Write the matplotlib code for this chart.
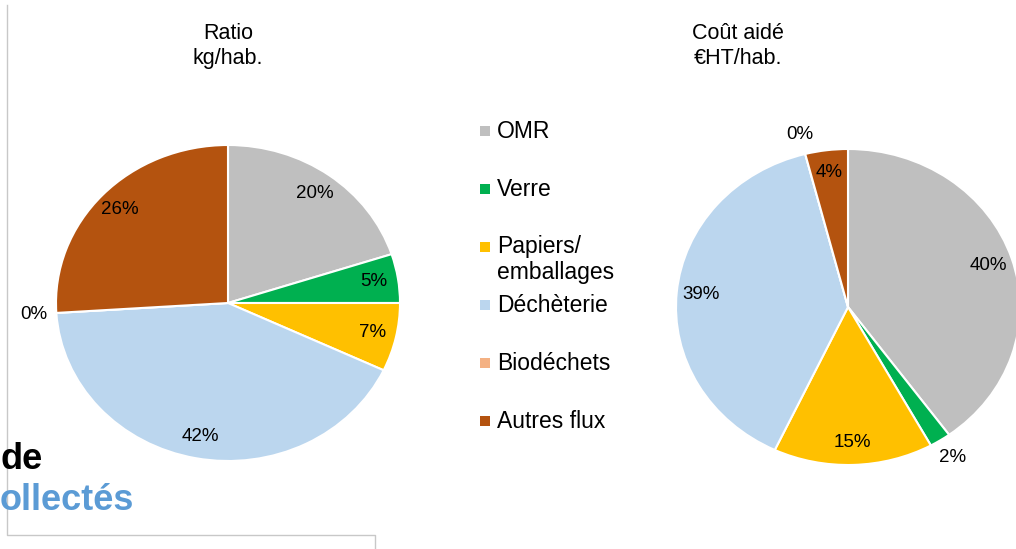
import matplotlib.pyplot as plt
import numpy as np

plt.rcParams["font.family"] = ["Liberation Sans", "DejaVu Sans"]

# données
categories = ["OMR", "Verre", "Papiers/\nemballages", "Déchèterie", "Biodéchets", "Autres flux"]
colors = ["#BFBFBF", "#00B050", "#FFC000", "#BBD6EE", "#F4B183", "#B4530F"]
ratio_pct = [20, 5, 7, 42, 0, 26]   # Ratio kg/hab.
cout_pct = [40, 2, 15, 39, 0, 4]    # Coût aidé €HT/hab.

W, H = 1016, 549
fig = plt.figure(figsize=(W / 100, H / 100), dpi=100)

# fond de diapo (coordonnées en pixels)
bg = fig.add_axes([0, 0, 1, 1])
bg.set_xlim(0, W)
bg.set_ylim(H, 0)
bg.axis("off")
bg.plot([7, 7, 375, 375], [5, 535, 535, H], color="#C8C8C8", lw=1)
bg.text(0, 469, "de", fontsize=26, fontweight="bold", color="black", va="baseline")
bg.text(0, 510, "ollectés", fontsize=26, fontweight="bold", color="#5B9BD5", va="baseline")


def pie_axes(cx, cy, rx, ry):
    return fig.add_axes([(cx - rx) / W, (H - cy - ry) / H, 2 * rx / W, 2 * ry / H])


def draw_pie(ax, values):
    ax.pie(values, colors=colors, startangle=90, counterclock=False,
           wedgeprops=dict(edgecolor="white", linewidth=1.5))
    ax.set_aspect("auto")
    ax.set_xlim(-1, 1)
    ax.set_ylim(-1, 1)
    vals = np.array(values, dtype=float)
    mids = 90 - 360 * (np.cumsum(vals) - vals / 2) / vals.sum()
    for v, a in zip(values, mids):
        r = 0.86 if v >= 4 else 1.13
        ax.text(r * np.cos(np.radians(a)), r * np.sin(np.radians(a)), f"{v}%",
                ha="center", va="center", fontsize=13.5, clip_on=False)


draw_pie(pie_axes(228, 303, 172, 158), ratio_pct)
draw_pie(pie_axes(848, 307, 172, 158), cout_pct)

# titres
fig.text(228 / W, 1 - 46 / H, "Ratio\nkg/hab.", ha="center", va="center",
         fontsize=15.5, linespacing=1.3)
fig.text(738 / W, 1 - 46 / H, "Coût aidé\n€HT/hab.", ha="center", va="center",
         fontsize=15.5, linespacing=1.3)

# légende
for i, (cat, col) in enumerate(zip(categories, colors)):
    y = 131 + i * 58
    bg.scatter([485], [y], marker="s", s=45, color=col, linewidths=0)
    for k, line in enumerate(cat.split("\n")):
        bg.text(497, y + k * 26, line, fontsize=16.5, va="center", ha="left")

fig.savefig("out.png", dpi=100)
